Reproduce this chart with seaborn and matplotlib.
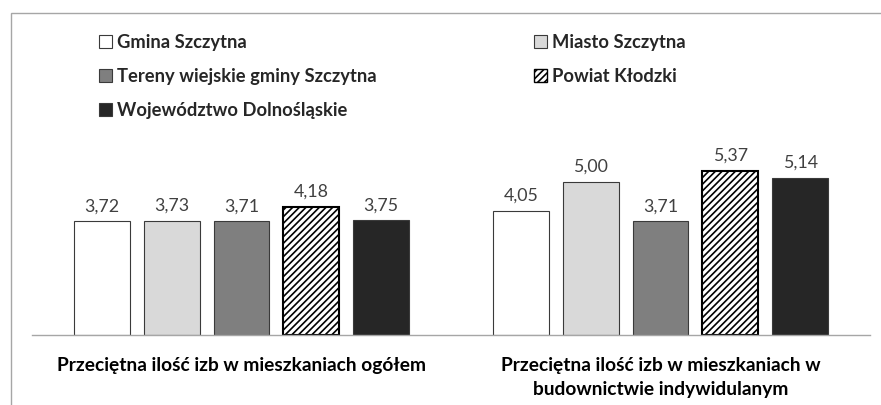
import pandas as pd
import seaborn as sns
import matplotlib.pyplot as plt
from matplotlib.patches import Patch, Rectangle

# data
categories = ["Przeciętna ilość izb w mieszkaniach ogółem",
              "Przeciętna ilość izb w mieszkaniach w\nbudownictwie indywidulanym"]
series = ["Gmina Szczytna", "Miasto Szczytna", "Tereny wiejskie gminy Szczytna",
          "Powiat Kłodzki", "Województwo Dolnośląskie"]
values_total = [3.72, 3.73, 3.71, 4.18, 3.75]
values_indiv = [4.05, 5.00, 3.71, 5.37, 5.14]
colors = ["#FFFFFF", "#D9D9D9", "#7F7F7F", "#FFFFFF", "#262626"]

df = pd.DataFrame({
    "category": [categories[0]] * len(series) + [categories[1]] * len(series),
    "series": series * 2,
    "value": values_total + values_indiv,
})

sns.set_style("white")
plt.rcParams['font.family'] = ['Lato', 'DejaVu Sans']
plt.rcParams['hatch.linewidth'] = 1.2

fig = plt.figure(figsize=(8.81, 4.05), dpi=100)
ax = fig.add_axes([32 / 881, 1 - 335 / 405, 838 / 881, 195 / 405])

sns.barplot(data=df, x="category", y="value", hue="series",
            order=categories, hue_order=series,
            palette=dict(zip(series, colors)), saturation=1,
            width=0.833, gap=0.2, edgecolor="#3a3a3a", linewidth=0.8,
            legend=False, ax=ax)

# hatched series (Powiat Kłodzki)
for bar in ax.containers[3]:
    bar.set_hatch('/////')
    bar.set_edgecolor('black')
    bar.set_linewidth(1.5)

# value labels with decimal comma
for cont in ax.containers:
    ax.bar_label(cont, labels=[f"{b.get_height():.2f}".replace('.', ',') for b in cont],
                 padding=5, fontsize=12.8, color="#404040")

ax.set_xlim(-0.5, 1.5)
ax.set_ylim(0, 6.37)
ax.set_yticks([])
ax.set_xlabel('')
ax.set_ylabel('')
for s in ['left', 'top', 'right']:
    ax.spines[s].set_visible(False)
ax.spines['bottom'].set_color('#A6A6A6')
ax.spines['bottom'].set_linewidth(1)
ax.tick_params(axis='x', length=0, pad=16)
for lbl in ax.get_xticklabels():
    lbl.set_fontweight('bold')
    lbl.set_fontsize(13.8)
    lbl.set_color('black')
    lbl.set_linespacing(1.45)

# legend: two columns, row-major order as in the reference
def handle(i):
    if i == 3:
        return Patch(facecolor='white', edgecolor='black', hatch='/////', linewidth=1)
    return Patch(facecolor=colors[i], edgecolor='#3a3a3a', linewidth=0.8)

legend_kw = dict(loc='upper left', frameon=False, prop=dict(weight='bold', size=13.2),
                 handlelength=0.7, handleheight=0.7, handletextpad=0.3,
                 labelspacing=0.93, borderaxespad=0, borderpad=0)
left_idx = [0, 2, 4]
right_idx = [1, 3]
fig.legend([handle(i) for i in left_idx], [series[i] for i in left_idx],
           bbox_to_anchor=(99 / 881, 1 - 34 / 405), **legend_kw)
fig.legend([handle(i) for i in right_idx], [series[i] for i in right_idx],
           bbox_to_anchor=(534 / 881, 1 - 34 / 405), **legend_kw)

# outer chart frame (left and top edges visible)
fig.add_artist(Rectangle((11 / 881, -0.1), 2, 1 - 13 / 405 + 0.1,
                         transform=fig.transFigure, fill=False,
                         edgecolor='#A6A6A6', linewidth=1))

fig.savefig('out.png', dpi=100)
